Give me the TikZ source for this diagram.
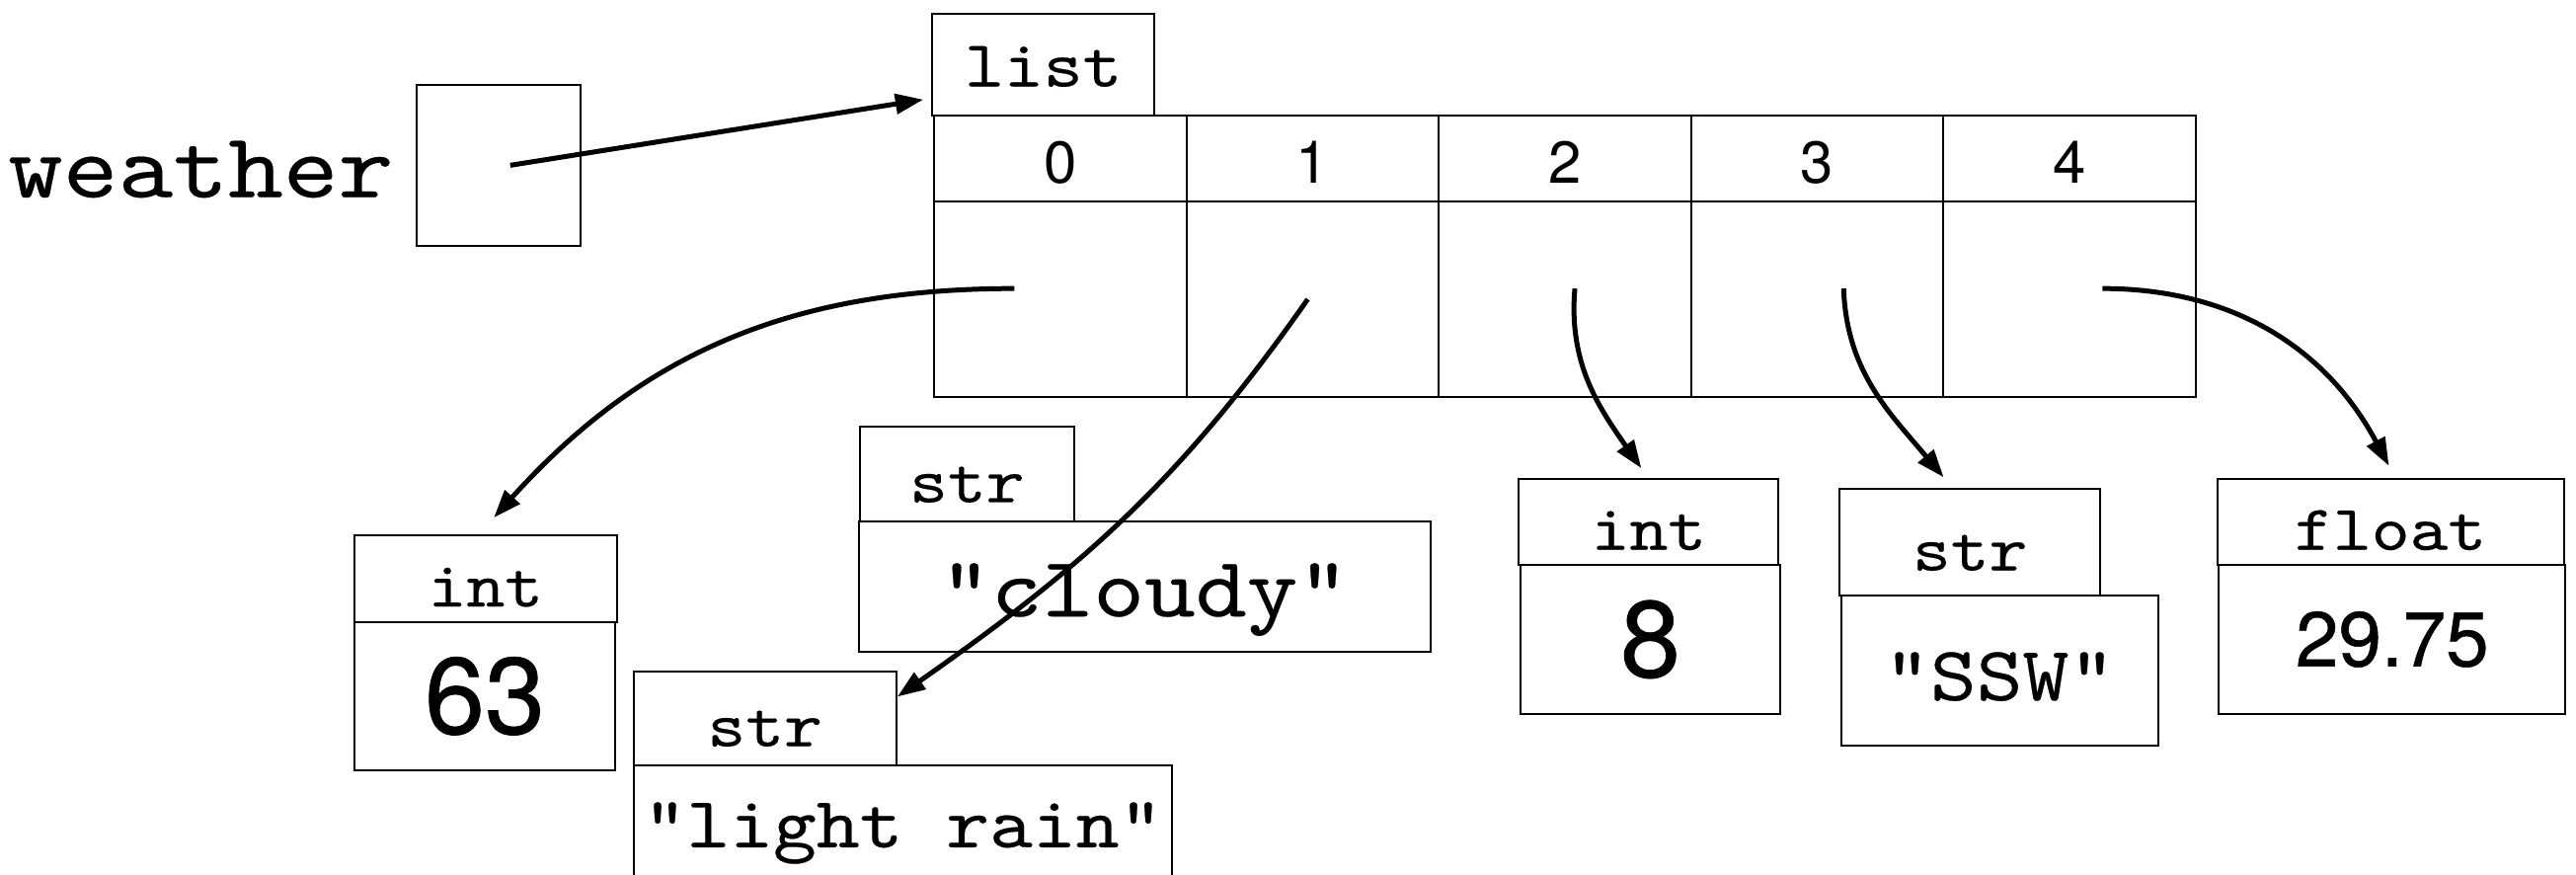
\documentclass[tikz,border=0pt]{standalone}
\usepackage{fontspec}
\setsansfont{TeX Gyre Heros}
\newfontfamily\cmono{lmmono10-regular.otf}[FakeStretch=1.14, FakeBold=0.3]
\newfontfamily\numfont{TeX Gyre Heros}[FakeBold=0.6]
\usetikzlibrary{arrows.meta,calc}
\begin{document}
\begin{tikzpicture}[x=1pt,y=1pt,
  box/.style={draw, line width=1.2pt, inner sep=0pt, anchor=north west},
  tlabel/.style={box, font=\cmono\fontsize{39}{44}\selectfont, text height=34pt, text depth=0pt},
  svalue/.style={box, text height=36pt, text depth=0pt},
  nvalue/.style={box, font=\numfont\fontsize{66}{70}\selectfont},
  ptr/.style={line width=3pt, -{Triangle[length=17pt,width=12pt]}}]
\useasboundingbox (0,0) rectangle (1568,532);

% variable
\node[font=\cmono\fontsize{56}{62}\selectfont, anchor=base east] (wname) at (243,412) {weather};
\node[box, minimum width=100pt, minimum height=98pt] (wbox) at (253,481) {};

% list object
\node[tlabel, font=\cmono\fontsize{40}{44}\selectfont, text height=26pt, minimum width=135pt, minimum height=62pt] (listl) at (567,524) {list};
\foreach \i in {0,...,4} {
  \node[box, font=\sffamily\fontsize{36}{40}\selectfont, text height=30pt, text depth=0pt, minimum width=153.6pt, minimum height=52pt] (h\i) at ({568+153.6*\i},462) {\i};
  \node[box, minimum width=153.6pt, minimum height=119pt] (c\i) at ({568+153.6*\i},410) {};
}

% int 63
\node[tlabel, minimum width=160pt, minimum height=53pt] (i63l) at (215,207) {int};
\node[nvalue, minimum width=159pt, minimum height=90pt] (i63v) at (215,154) {63};

% str cloudy
\node[tlabel, minimum width=130pt, minimum height=58pt] (cl) at (523,273) {str};
\node[svalue, font=\cmono\fontsize{52}{58}\selectfont, minimum width=348pt, minimum height=79pt] (cv) at (522,215) {"cloudy"};

% str light rain
\node[tlabel, minimum width=160pt, minimum height=57pt] (rl) at (385,124) {str};
\node[box, font=\cmono\fontsize{44}{50}\selectfont, text height=20pt, text depth=0pt, minimum width=328pt, minimum height=80pt] (rv) at (385,67) {"light rain"};

% int 8
\node[tlabel, minimum width=158pt, minimum height=52pt] (i8l) at (924,241) {int};
\node[nvalue, minimum width=158pt, minimum height=91pt] (i8v) at (925,189) {8};

% str SSW
\node[tlabel, minimum width=159pt, minimum height=65pt] (sl) at (1119,235) {str};
\node[svalue, font=\cmono\fontsize{47}{52}\selectfont, minimum width=193pt, minimum height=91pt] (sv) at (1120,170) {"SSW"};

% float
\node[tlabel, minimum width=211pt, minimum height=52pt] (fl) at (1349,241) {float};
\node[nvalue, font=\numfont\fontsize{47}{52}\selectfont, minimum width=211pt, minimum height=91pt] (fv) at (1350,189) {29.75};

% references
\draw[ptr] ([xshift=7pt]wbox.center) -- ($(listl.west)+(-5,-21)$);
\draw[ptr] ($(c0.center)+(-28,6.5)$) to[out=180,in=48] ($(i63l.north)+(5,10)$);
\draw[ptr] ($(c1.center)+(-3,0)$) to[out=235,in=35] ($(rl.north east)+(0,-16)$);
\draw[ptr] ($(c2.center)+(6,6.5)$) to[out=265,in=125] ($(i8l.north)+(-4.5,6)$);
\draw[ptr] ($(c3.center)+(16,6.5)$) to[out=-88,in=130] ($(sl.north)+(-16,6.5)$);
\draw[ptr] ($(c4.center)+(20,6.5)$) to[out=0,in=118] ($(fl.north)+(-1,7.5)$);
\end{tikzpicture}
\end{document}
